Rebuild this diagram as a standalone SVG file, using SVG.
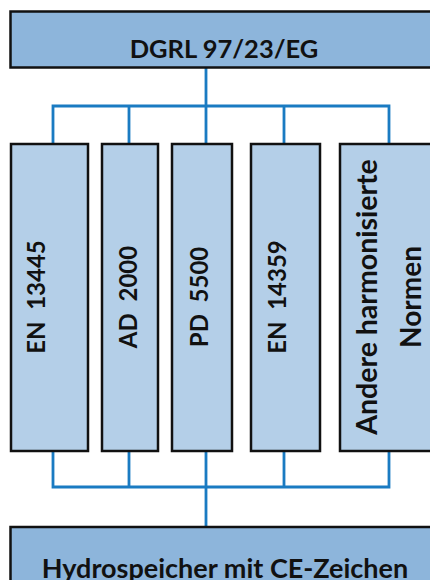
<svg xmlns="http://www.w3.org/2000/svg" width="430" height="580" viewBox="0 0 430 580">
<style>
.main{fill:#8db5db;stroke:#111;stroke-width:2.5}
.std{fill:#b4cfe8;stroke:#111;stroke-width:2.5}
.t{font-family:Lato,"Liberation Sans",sans-serif;font-weight:bold;font-size:24px;fill:#111;text-anchor:middle;white-space:pre}
.c{fill:none;stroke:#1a7bc2;stroke-width:2.8}
</style>
<g id="connectors">
<path class="c" d="M206,68 V106 M53,144 V106 H389 V144 M129,106 V144 M206,106 V144 M284,106 V144"/>
<path class="c" d="M53,451 V487 H389 V451 M129,451 V487 M206,451 V527 M284,451 V487"/>
</g>
<g id="dgrl">
<rect class="main" x="10.5" y="11.5" width="440" height="56"/>
<text class="t" x="224" y="58" style="font-size:25.5px">DGRL 97/23/EG</text>
</g>
<g id="en13445">
<rect class="std" x="11" y="144" width="77" height="307"/>
<text class="t" transform="translate(45,297) rotate(-90)">EN  13445</text>
</g>
<g id="ad2000">
<rect class="std" x="102" y="144" width="56" height="307"/>
<text class="t" transform="translate(137,297) rotate(-90)">AD  2000</text>
</g>
<g id="pd5500">
<rect class="std" x="172" y="144" width="60" height="307"/>
<text class="t" transform="translate(208,297) rotate(-90)">PD  5500</text>
</g>
<g id="en14359">
<rect class="std" x="251" y="144" width="69" height="307"/>
<text class="t" transform="translate(286,297) rotate(-90)">EN  14359</text>
</g>
<g id="andere">
<rect class="std" x="340" y="144" width="100" height="307"/>
<text class="t" transform="translate(377,297) rotate(-90)" style="font-size:28.5px">Andere harmonisierte</text>
<text class="t" transform="translate(421,297) rotate(-90)" style="font-size:28px">Normen</text>
</g>
<g id="hydrospeicher">
<rect class="main" x="10.5" y="527" width="440" height="70"/>
<text class="t" x="225" y="578" style="font-size:27px">Hydrospeicher mit CE-Zeichen</text>
</g>
</svg>
